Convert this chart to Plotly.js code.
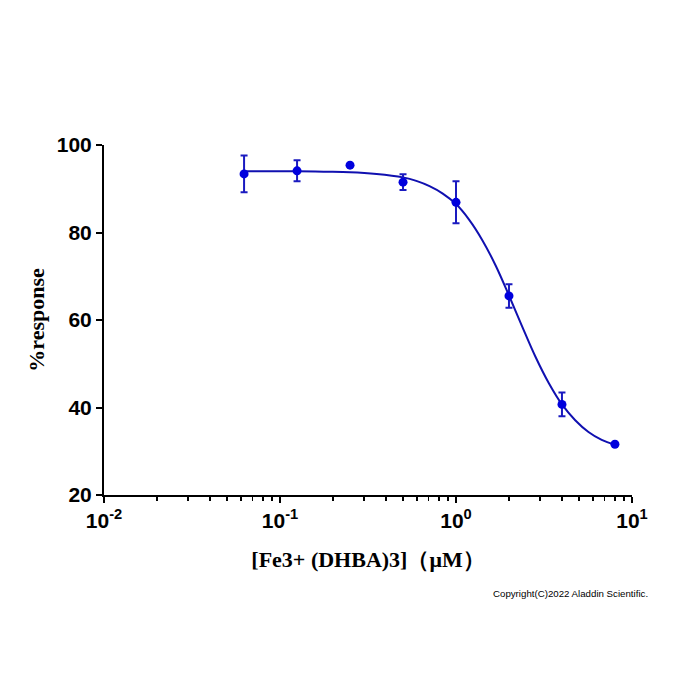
<!DOCTYPE html>
<html>
<head>
<meta charset="utf-8">
<script src="https://cdn.plot.ly/plotly-3.0.1.min.js"></script>
<style>
  html, body { margin: 0; padding: 0; background: #ffffff; }
  #chart { width: 700px; height: 700px; }
</style>
</head>
<body>
<div id="chart"></div>
<script>
// Concentrations of [Fe3+ (DHBA)3] in µM
const conc = [0.0625, 0.125, 0.25, 0.5, 1, 2, 4, 8];
// Mean % response and error (± SD) at each concentration
const response = [93.4, 94.1, 95.4, 91.5, 86.9, 65.5, 40.7, 31.6];
const responseErr = [4.2, 2.4, 0, 1.8, 4.8, 2.7, 2.7, 0];

// Fitted dose-response curve, sampled at quarter-octave steps over the tested range
const curveConc = [0.0625, 0.125, 0.177, 0.25, 0.354, 0.5, 0.595, 0.707, 0.841, 1.0, 1.189, 1.414, 1.682, 2.0, 2.378, 2.828, 3.364, 4.0, 4.757, 5.657, 6.727, 8.0];
const curveResp = [94.0, 94.0, 93.9, 93.8, 93.4, 92.6, 91.8, 90.6, 88.9, 86.5, 82.9, 78.2, 72.4, 65.6, 58.5, 51.6, 45.6, 40.7, 37.1, 34.4, 32.6, 31.5];

// Axis ticks
const xTickVals = [0.01, 0.1, 1, 10];
const xTickText = ['10<sup>-2</sup>', '10<sup>-1</sup>', '10<sup>0</sup>', '10<sup>1</sup>'];
const yTickVals = [20, 40, 60, 80, 100];

const curveTrace = {
  x: curveConc,
  y: curveResp,
  type: 'scatter',
  mode: 'lines',
  line: { color: '#1010b0', width: 2, shape: 'spline', smoothing: 1 },
  hoverinfo: 'skip'
};

const pointTrace = {
  x: conc,
  y: response,
  type: 'scatter',
  mode: 'markers',
  marker: { color: '#0000dd', size: 9 },
  error_y: {
    type: 'data',
    array: responseErr,
    visible: true,
    color: '#1a1ac0',
    thickness: 2,
    width: 3.5
  },
  hoverinfo: 'skip'
};

const axisFont = { family: 'Arial, "Liberation Sans", sans-serif', size: 21, color: '#000000', weight: 'bold' };
const titleFont = { family: '"Times New Roman", "Liberation Serif", serif', size: 22, color: '#000000', weight: 'bold' };

const layout = {
  width: 700,
  height: 700,
  margin: { l: 104, r: 68, t: 145, b: 205 },
  paper_bgcolor: '#ffffff',
  plot_bgcolor: '#ffffff',
  showlegend: false,
  xaxis: {
    type: 'log',
    range: [-2, 1],
    tickvals: xTickVals,
    ticktext: xTickText,
    ticks: 'outside',
    ticklen: 6,
    tickwidth: 2,
    tickcolor: '#000000',
    showline: true,
    linecolor: '#000000',
    linewidth: 2,
    showgrid: false,
    zeroline: false,
    tickfont: axisFont,
    minor: { ticks: 'outside', ticklen: 4, tickwidth: 1.5, tickcolor: '#000000', dtick: 'D1', showgrid: false },
    title: { text: '[Fe3+ (DHBA)3]（μM）', font: titleFont, standoff: 20 }
  },
  yaxis: {
    range: [20, 100],
    tickvals: yTickVals,
    ticks: 'outside',
    ticklen: 6,
    tickwidth: 2,
    tickcolor: '#000000',
    showline: true,
    linecolor: '#000000',
    linewidth: 2,
    showgrid: false,
    zeroline: false,
    tickfont: axisFont,
    title: { text: '%response', font: titleFont, standoff: 6 }
  },
  annotations: [{
    text: 'Copyright(C)2022 Aladdin Scientific.',
    xref: 'paper', yref: 'paper',
    x: (650 - 104) / 528, y: -(593 - 495) / 350,
    xanchor: 'right', yanchor: 'middle',
    showarrow: false,
    font: { family: 'Arial, "Liberation Sans", sans-serif', size: 9.7, color: '#000000' }
  }]
};

Plotly.newPlot('chart', [curveTrace, pointTrace], layout, { displayModeBar: false, staticPlot: true });
</script>
</body>
</html>
